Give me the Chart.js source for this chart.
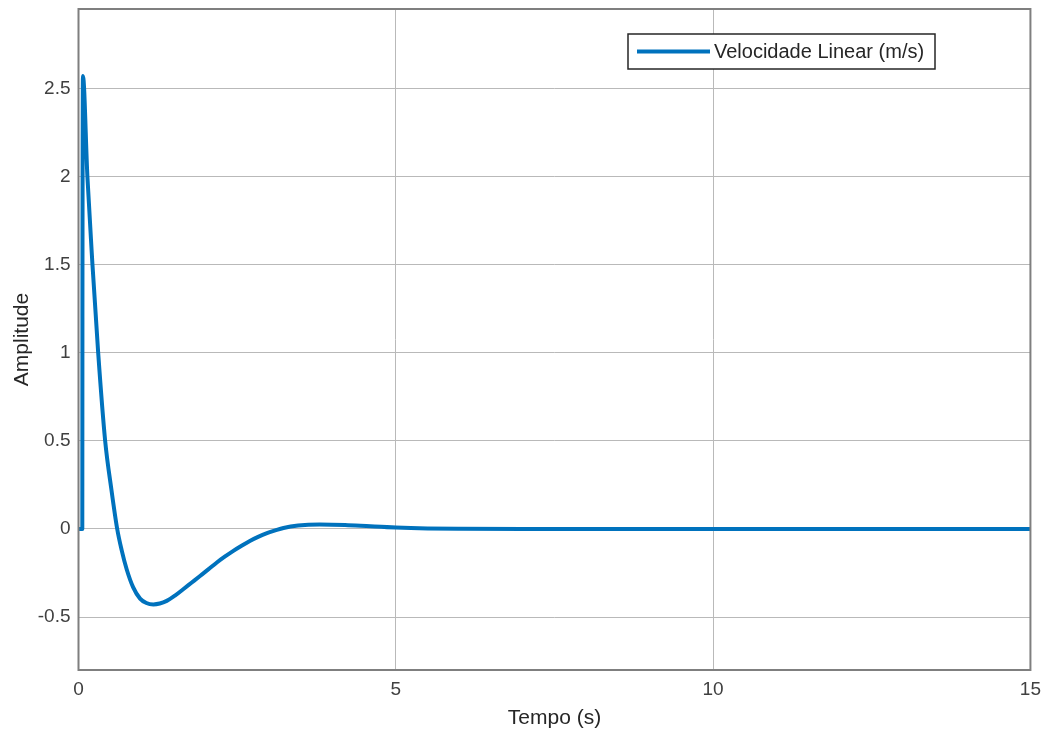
<!DOCTYPE html>
<html>
<head>
<meta charset="utf-8">
<title>Velocidade Linear</title>
<script src="https://cdn.jsdelivr.net/npm/chart.js@4.4.1/dist/chart.umd.min.js"></script>
<style>
  html, body { margin: 0; padding: 0; background: #fff; }
  #wrap { width: 1049px; height: 731px; }
</style>
</head>
<body>
<div id="wrap"><canvas id="velChart" width="1049" height="731"></canvas></div>
<script>
// time (s) and linear velocity (m/s) of the step response
const tempo = [
  0, 0.06, 0.062, 0.07, 0.14, 0.22, 0.31, 0.42, 0.52, 0.61, 0.68, 0.76, 0.86,
  0.97, 1.07, 1.18, 1.28, 1.39, 1.52, 1.65, 1.78, 1.91, 2.05, 2.18, 2.31, 2.44,
  2.57, 2.70, 2.83, 2.96, 3.10, 3.23, 3.46, 3.80, 4.20, 4.60, 5.00, 5.50, 6.00,
  7.00, 10.00, 15.00
];
const velocidade = [
  0, 0, 1.2, 2.57, 2.0, 1.5, 1.0, 0.5, 0.22, 0.0, -0.12, -0.23, -0.33,
  -0.395, -0.42, -0.428, -0.423, -0.408, -0.378, -0.342, -0.305, -0.268, -0.228, -0.19, -0.156, -0.124,
  -0.095, -0.068, -0.045, -0.025, -0.008, 0.006, 0.020, 0.026, 0.023, 0.015, 0.008, 0.003, 0.001,
  0, 0, 0
];
const xTicks = [0, 5, 10, 15];
const yTicks = [-0.5, 0, 0.5, 1, 1.5, 2, 2.5];

const lineColor = "#0072BD";
const font = "'Liberation Sans', Arial, Helvetica, sans-serif";

const points = tempo.map((t, i) => ({ x: t, y: velocidade[i] }));

// box around the axes plus a legend in the upper right
const boxAndLegend = {
  id: "boxAndLegend",
  afterDraw(chart) {
    const { ctx, chartArea } = chart;
    ctx.save();
    ctx.strokeStyle = "#7f7f7f";
    ctx.lineWidth = 2;
    ctx.strokeRect(chartArea.left, chartArea.top,
      chartArea.right - chartArea.left, chartArea.bottom - chartArea.top);

    const ds = chart.data.datasets[0];
    const lx = 628, ly = 34, lw = 307, lh = 35;
    ctx.fillStyle = "#fff";
    ctx.fillRect(lx, ly, lw, lh);
    ctx.strokeStyle = "#262626";
    ctx.lineWidth = 1.5;
    ctx.strokeRect(lx, ly, lw, lh);
    ctx.strokeStyle = ds.borderColor;
    ctx.lineWidth = 4;
    ctx.beginPath();
    ctx.moveTo(637, ly + lh / 2);
    ctx.lineTo(710, ly + lh / 2);
    ctx.stroke();
    ctx.fillStyle = "#262626";
    ctx.font = "20px " + font;
    ctx.textBaseline = "middle";
    ctx.fillText(ds.label, 714, ly + lh / 2 + 1);
    ctx.restore();
  }
};

new Chart(document.getElementById("velChart"), {
  type: "line",
  data: {
    datasets: [{
      label: "Velocidade Linear (m/s)",
      data: points,
      borderColor: lineColor,
      borderWidth: 4,
      pointRadius: 0,
      cubicInterpolationMode: "monotone",
      fill: false,
      borderJoinStyle: "round",
      borderCapStyle: "round"
    }]
  },
  options: {
    responsive: false,
    animation: false,
    layout: { padding: { top: 9, right: 18, left: 0, bottom: 0 } },
    plugins: { legend: { display: false }, tooltip: { enabled: false } },
    scales: {
      x: {
        type: "linear",
        min: 0,
        max: 15,
        afterBuildTicks: (s) => { s.ticks = xTicks.map(v => ({ value: v })); },
        afterFit: (s) => { s.height = 61; },
        grid: { color: "#b9b9b9", lineWidth: 1, drawTicks: false },
        border: { display: false },
        ticks: {
          color: "#404040",
          padding: 8,
          maxRotation: 0,
          font: { family: font, size: 19 }
        },
        title: {
          display: true,
          text: "Tempo (s)",
          color: "#262626",
          padding: { top: 3, bottom: 0 },
          font: { family: font, size: 21 }
        }
      },
      y: {
        type: "linear",
        min: -0.8,
        max: 2.95,
        afterBuildTicks: (s) => { s.ticks = yTicks.map(v => ({ value: v })); },
        afterFit: (s) => { s.width = 78.5; s.paddingTop = 0; s.paddingBottom = 0; },
        grid: { color: "#b9b9b9", lineWidth: 1, drawTicks: false },
        border: { display: false },
        ticks: {
          color: "#404040",
          padding: 8,
          font: { family: font, size: 19 },
          callback: (v) => String(v)
        },
        title: {
          display: true,
          text: "Amplitude",
          color: "#262626",
          padding: { top: 10, bottom: 0 },
          font: { family: font, size: 21 }
        }
      }
    }
  },
  plugins: [boxAndLegend]
});
</script>
</body>
</html>
